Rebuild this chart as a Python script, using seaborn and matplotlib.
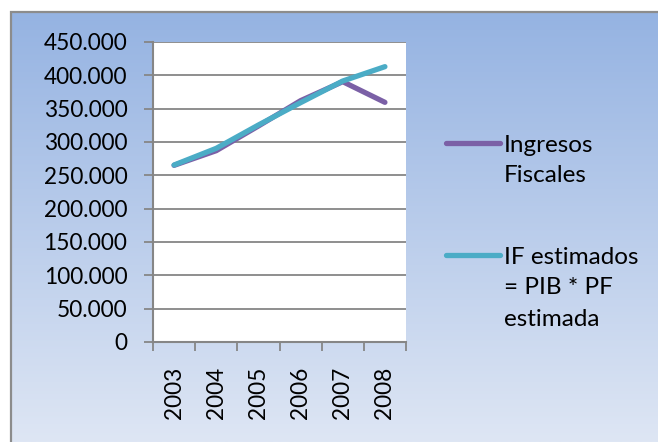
import numpy as np
import pandas as pd
import matplotlib
matplotlib.use("Agg")
import matplotlib.pyplot as plt
import seaborn as sns
from matplotlib.ticker import FuncFormatter, FixedLocator
from matplotlib.patches import Rectangle
from matplotlib.lines import Line2D

years = ["2003", "2004", "2005", "2006", "2007", "2008"]
ingresos = [265000, 287000, 324000, 362000, 390500, 359500]
estimados = [265500, 290500, 325500, 359000, 391500, 413000]
series_names = ["Ingresos\nFiscales", "IF estimados\n= PIB * PF\nestimada"]
colors = ["#7B60A6", "#4BACC6"]
yticks = [0, 50000, 100000, 150000, 200000, 250000, 300000, 350000, 400000, 450000]

sns.set_theme(style="white")
plt.rcParams["font.family"] = ["Lato", "DejaVu Sans"]
FS = 16.3
LFS = 17.5

df = pd.DataFrame({
    "x": list(range(len(years))) * 2,
    "value": ingresos + estimados,
    "serie": [series_names[0]] * len(years) + [series_names[1]] * len(years),
})

W, H = 658, 442
fig = plt.figure(figsize=(W / 100, H / 100), dpi=100)
fig.patch.set_facecolor("white")

# gradient background frame
bg = fig.add_axes([11 / W, 0, 1 - 11 / W, 1 - 12 / H])
bg.set_axis_off()
top = np.array([149, 179, 226]) / 255
bot = np.array([222, 230, 244]) / 255
t = np.linspace(0, 1, 256)[:, None]
grad = top[None, :] * (1 - t) + bot[None, :] * t
bg.imshow(grad[:, None, :], aspect="auto", extent=[0, 1, 0, 1], interpolation="bilinear")
bg.set_xlim(0, 1); bg.set_ylim(0, 1)
fig.add_artist(Rectangle((11 / W, -0.1), 1.2, 1.1 - 12 / H, transform=fig.transFigure,
                         facecolor="none", edgecolor="#8C8C8C", linewidth=1.6))

ax = fig.add_axes([153 / W, (H - 342) / H, 253 / W, 300 / H])
ax.set_facecolor("white")
sns.lineplot(data=df, x="x", y="value", hue="serie", palette=colors, ax=ax,
             linewidth=3.8, legend=False, solid_capstyle="round")

ax.set_xlim(-0.5, len(years) - 0.5)
ax.set_ylim(0, 450000)
ax.set_yticks(yticks)
ax.yaxis.set_major_formatter(FuncFormatter(lambda v, p: f"{int(v):,}".replace(",", ".")))
ax.xaxis.set_major_locator(FixedLocator(np.arange(-0.5, len(years), 1.0)))
ax.xaxis.set_major_formatter(FuncFormatter(lambda v, p: ""))
ax.set_xticks(np.arange(len(years)), labels=years, minor=True)
ax.tick_params(axis="x", which="major", length=6.5, width=1.3, color="#868686", direction="out", bottom=True)
ax.tick_params(axis="x", which="minor", length=0, pad=18, labelsize=FS, labelrotation=90, bottom=True)
for lab in ax.get_xticklabels(minor=True):
    lab.set_va("top"); lab.set_ha("center"); lab.set_color("black")
ax.tick_params(axis="y", length=6.5, width=1.3, color="#868686", direction="out", pad=12, labelsize=FS, left=True)
for lab in ax.get_yticklabels():
    lab.set_color("black")
ax.grid(axis="y", color="#868686", linewidth=1.3)
ax.set_axisbelow(True)
for s in ["top", "right"]:
    ax.spines[s].set_visible(False)
for s in ["left", "bottom"]:
    ax.spines[s].set_color("#868686")
    ax.spines[s].set_linewidth(1.5)
ax.set_xlabel(""); ax.set_ylabel("")

# legend drawn manually: handle aligned with first line of each label
entry_y = [143, 255]
line_gap = 31
for name, c, y0 in zip(series_names, colors, entry_y):
    fig.add_artist(Line2D([446 / W, 500 / W], [(H - y0) / H] * 2, transform=fig.transFigure,
                          color=c, linewidth=3.8, solid_capstyle="round"))
    for i, part in enumerate(name.split("\n")):
        fig.text(504 / W, (H - (y0 + 2 + i * line_gap)) / H, part, fontsize=LFS,
                 va="center", ha="left", color="black")

fig.savefig("out.png", dpi=100)
